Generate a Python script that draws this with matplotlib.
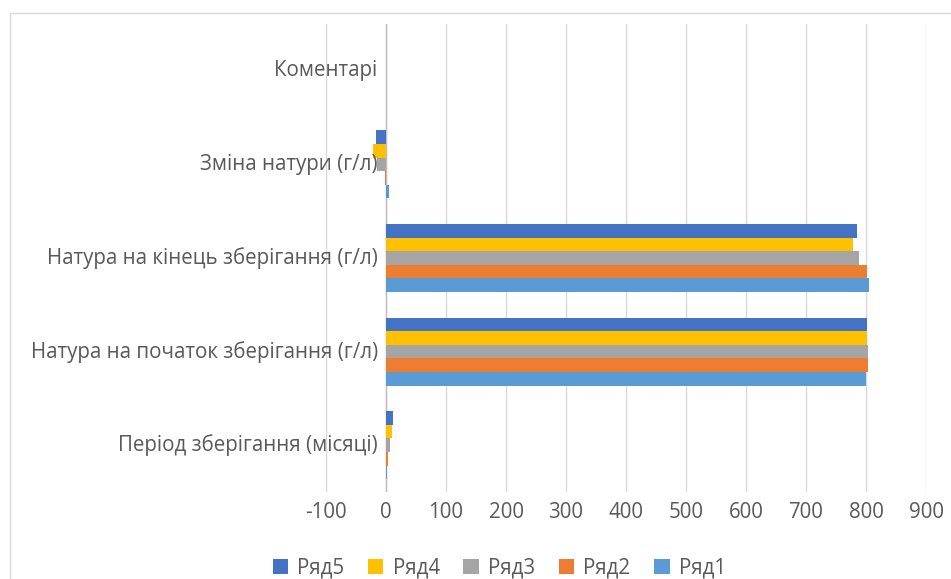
import numpy as np
import matplotlib.pyplot as plt
import matplotlib.patches as mpatches

plt.rcParams['font.family'] = ['Open Sans', 'DejaVu Sans']

categories = ['Період зберігання (місяці)',
              'Натура на початок зберігання (г/л)',
              'Натура на кінець зберігання (г/л)',
              'Зміна натури (г/л)',
              'Коментарі']
series_names = ['Ряд1', 'Ряд2', 'Ряд3', 'Ряд4', 'Ряд5']
ryad1 = [2, 800, 805, 5, 0]
ryad2 = [4, 803, 802, -1, 0]
ryad3 = [7, 804, 789, -15, 0]
ryad4 = [10, 801, 779, -22, 0]
ryad5 = [12, 802, 785, -17, 0]
values = [ryad1, ryad2, ryad3, ryad4, ryad5]
colors = ['#5B9BD5', '#ED7D31', '#A5A5A5', '#FFC000', '#4472C4']
x_ticks = list(range(-100, 1000, 100))

fig = plt.figure(figsize=(9.51, 5.79), dpi=100)
ax = fig.add_axes([326/951, 1 - 492/579, 600/951, 468/579])

y = np.arange(len(categories))
h = 0.145
for i, (name, vals, c) in enumerate(zip(series_names, values, colors)):
    ax.barh(y + (i - 2) * h, vals, height=h, color=c, label=name, zorder=3)

fs = 14.8
ax.set_xlim(-100, 900)
ax.set_ylim(-0.5, len(categories) - 0.5)
ax.set_xticks(x_ticks)
ax.set_xticklabels([str(t) for t in x_ticks], fontsize=fs, color='#595959')
ax.tick_params(axis='x', length=0, pad=7)
ax.set_yticks([])
ax.grid(axis='x', color='#D9D9D9', linewidth=1, zorder=0)
ax.axvline(0, color='#BFBFBF', linewidth=1, zorder=2)
for s in ax.spines.values():
    s.set_visible(False)

for yi, label in zip(y, categories):
    ax.annotate(label, (0, yi), xytext=(-6, 0), textcoords='offset points',
                ha='right', va='center', fontsize=fs, color='#595959')

# chart border
fig.add_artist(mpatches.Rectangle((10/951, -1), 2, 2 - 13/579,
                                  transform=fig.transFigure, fill=False,
                                  edgecolor='#D9D9D9', linewidth=1))

handles, labels = ax.get_legend_handles_labels()
fig.legend(handles[::-1], labels[::-1], loc='center', ncol=5,
           bbox_to_anchor=(0.525, 1 - 568/579), frameon=False,
           fontsize=14.8, labelcolor='#595959', handlelength=0.75,
           handleheight=0.75, handletextpad=0.45, columnspacing=1.15)

fig.savefig('out.png', dpi=100)
